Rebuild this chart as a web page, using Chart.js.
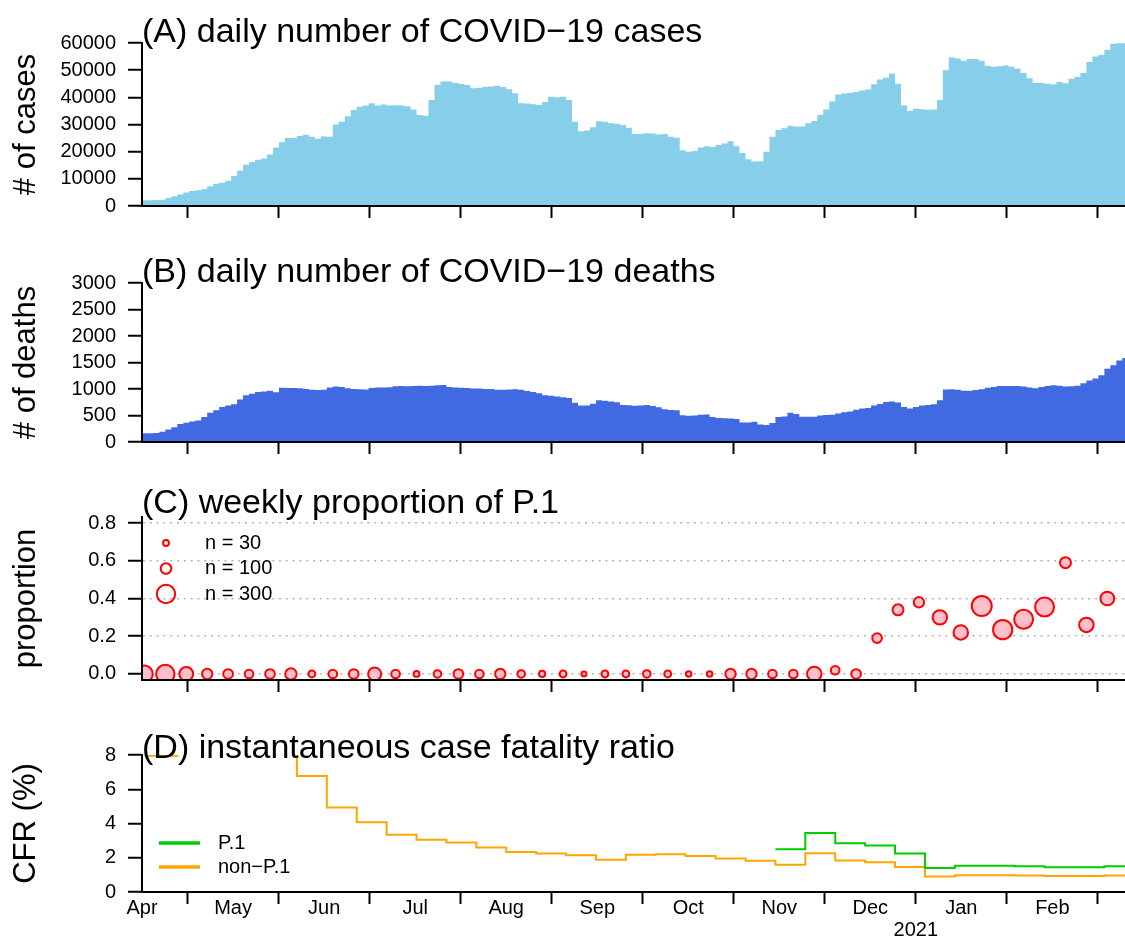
<!DOCTYPE html>
<html>
<head>
<meta charset="utf-8">
<script src="https://cdn.jsdelivr.net/npm/chart.js@4.4.1/dist/chart.umd.min.js"></script>
<style>
  html, body { margin: 0; padding: 0; background: #ffffff; }
  #wrap { position: relative; width: 1125px; height: 939px; overflow: hidden; background: #fff; }
  .panel { position: absolute; left: 0; width: 1125px; }
  canvas { display: block; }
</style>
</head>
<body>
<div id="wrap">
  <div class="panel" style="top:0px;height:240px"><canvas id="cA" width="1125" height="240"></canvas></div>
  <div class="panel" style="top:240px;height:235px"><canvas id="cB" width="1125" height="235"></canvas></div>
  <div class="panel" style="top:475px;height:240px"><canvas id="cC" width="1125" height="240"></canvas></div>
  <div class="panel" style="top:715px;height:224px"><canvas id="cD" width="1125" height="224"></canvas></div>
</div>
<script>
// ---------------- DATA ----------------
// x unit: days since 1 April 2020 (month ticks drawn uniformly, as in the original figure)
const monthLabels = ['Apr', 'May', 'Jun', 'Jul', 'Aug', 'Sep', 'Oct', 'Nov', 'Dec', 'Jan', 'Feb'];
const yearLabel = '2021';
const yearBoundaryIndex = 9;            // tick between Dec and Jan

// daily series, one value per 2-day step starting at day 15
const dailyStartDay = 15;
const dailyStepDays = 2;
const dailyCases = [
  2100, 2100, 2200, 2300, 2900, 3600, 4200, 5000, 5500, 5800,
  6200, 7300, 8200, 8600, 9300, 11000, 13000, 15200, 16200, 17000,
  17500, 19000, 21500, 23500, 25000, 25000, 25800, 26200, 25500, 24800,
  25600, 25500, 30000, 31000, 33000, 35300, 36500, 37000, 37800, 37000,
  37400, 37000, 37100, 37000, 36700, 35500, 33500, 33200, 39000, 44500,
  45800, 45800, 45300, 45000, 44500, 43300, 43500, 43800, 44000, 44300,
  43800, 43000, 41500, 37800, 37700, 37500, 37200, 38300, 40200, 40000,
  40200, 39000, 31000, 27500, 27800, 29000, 31200, 31000, 30500, 30300,
  29800, 28800, 26500, 26500, 26800, 26700, 26300, 26500, 25500, 25100,
  20500, 20000, 20200, 21500, 22000, 21700, 22500, 23000, 23800, 22000,
  19500, 17200, 16400, 16500, 20000, 25500, 28000, 28600, 29500, 29300,
  29300, 30500, 31300, 33500, 35500, 38500, 41000, 41400, 41700, 42000,
  42500, 42900, 44800, 46600, 47200, 48800, 45000, 37000, 35000, 35800,
  35600, 35400, 35500, 39000, 50000, 54700, 54300, 53500, 54100, 54100,
  53500, 51500, 51300, 51400, 51700, 51300, 50500, 49000, 47000, 45300,
  45300, 45000, 44800, 45600, 45200, 46800, 47500, 49000, 53000, 55000,
  55600, 57500, 59700, 59900, 59900
];
const dailyDeaths = [
  164, 164, 170, 195, 235, 280, 340, 365, 385, 405,
  470, 550, 600, 660, 690, 710, 800, 880, 910, 945,
  955, 965, 940, 1025, 1020, 1020, 1015, 1000, 985, 980,
  985, 1030, 1045, 1040, 1015, 1000, 995, 990, 1020, 1030,
  1030, 1035, 1050, 1055, 1050, 1055, 1060, 1055, 1060, 1070,
  1075, 1040, 1030, 1025, 1020, 1010, 1010, 1000, 1000, 985,
  985, 990, 995, 985, 960, 945, 920, 880, 875, 860,
  845, 830, 740, 690, 690, 720, 790, 780, 765, 750,
  700, 695, 686, 690, 698, 680, 655, 620, 604, 600,
  505, 497, 500, 515, 520, 470, 455, 450, 445, 435,
  370, 370, 384, 330, 321, 360, 470, 480, 550, 528,
  478, 478, 478, 500, 510, 515, 540, 560, 575, 610,
  630, 640, 690, 715, 755, 765, 745, 660, 630, 660,
  690, 700, 710, 790, 990, 995, 985, 965, 965, 980,
  995, 1025, 1040, 1055, 1057, 1057, 1057, 1045, 1030, 1015,
  1040, 1057, 1070, 1060, 1045, 1050, 1060, 1110, 1160, 1200,
  1260, 1380, 1450, 1540, 1585
];

// weekly P.1 proportion (first week starts at day 16)
const weeklyStartDay = 16;
const weeklySampleSize = [
  250, 300, 170, 95, 83, 66, 83, 115, 42, 66,
  83, 152, 66, 30, 51, 83, 66, 95, 51, 34,
  42, 22, 42, 42, 51, 42, 27, 27, 95, 95,
  66, 66, 186, 66, 83, 83, 107, 95, 186, 186,
  355, 330, 318, 318, 107, 186, 168
];
const weeklyP1Proportion = [
  0, 0, 0, 0, 0, 0, 0, 0, 0, 0,
  0, 0, 0, 0, 0, 0, 0, 0, 0, 0,
  0, 0, 0, 0, 0, 0, 0, 0, 0, 0,
  0, 0, 0, 0.02, 0, 0.19, 0.34, 0.38, 0.30, 0.22,
  0.36, 0.235, 0.29, 0.355, 0.59, 0.26, 0.40
];
const bubbleLegendSizes = [30, 100, 300];

// instantaneous CFR (%) in 10-day windows
const cfrWindowStart = [16, 27, 37, 47, 57, 67, 77, 87, 97, 107, 117, 127, 137, 147, 157, 167, 177,
  187, 197, 207, 217, 227, 237, 247, 257, 267, 277, 287, 297, 307, 317, 327, 337];
const cfrWindowEnd = 347;
const cfrNonP1 = [7.95, 9.5, 10, 9.5, 9, 6.78, 4.93, 4.08, 3.34, 3.05, 2.89, 2.60, 2.33, 2.25, 2.14, 1.88, 2.17,
  2.21, 2.10, 1.96, 1.83, 1.59, 2.27, 1.84, 1.73, 1.46, 0.91, 0.98, 0.98, 0.96, 0.93, 0.93, 0.96];
const cfrP1 = [null, null, null, null, null, null, null, null, null, null, null, null, null, null, null, null, null,
  null, null, null, null, 2.50, 3.44, 2.85, 2.72, 2.25, 1.40, 1.53, 1.53, 1.50, 1.44, 1.44, 1.50];

const casesTicks = [0, 10000, 20000, 30000, 40000, 50000, 60000];
const deathsTicks = [0, 500, 1000, 1500, 2000, 2500, 3000];
const propTicks = [0, 0.2, 0.4, 0.6, 0.8];
const cfrTicks = [0, 2, 4, 6, 8];

// ---------------- STYLE / LAYOUT ----------------
const FONT = '"Liberation Sans", Arial, Helvetica, sans-serif';
Chart.defaults.font.family = FONT;
Chart.defaults.color = '#000';
const X_MIN = 15.2, X_MAX = 343.9, MONTH = 30.44;
const radiusOf = n => 0.53 * Math.sqrt(n);

function monthTicks(withLabels) {
  const t = [];
  for (let k = 0; k < monthLabels.length; k++) {
    if (withLabels) t.push({ value: (k + 0.5) * MONTH, lab: monthLabels[k], boundary: false });
    t.push({ value: (k + 1) * MONTH, lab: (k + 1 === yearBoundaryIndex) ? ['', yearLabel] : '', boundary: true });
  }
  return t;
}

function xAxis(withLabels) {
  return {
    type: 'linear', position: 'bottom', min: X_MIN, max: X_MAX,
    afterBuildTicks: s => { s.ticks = monthTicks(withLabels); },
    ticks: {
      display: withLabels, autoSkip: false, maxRotation: 0, minRotation: 0, padding: -7,
      font: { size: 20, lineHeight: 1.1 }, color: '#000',
      callback: (v, i, ticks) => ticks[i].lab
    },
    grid: {
      display: true, drawOnChartArea: false, drawTicks: true, tickLength: 12, tickWidth: 2,
      tickColor: c => (c.tick && c.tick.boundary) ? '#000' : 'rgba(0,0,0,0)'
    },
    border: { display: true, color: '#000', width: 2, z: 1 },
    afterFit: s => { s.height = withLabels ? 47 : 12; }
  };
}

function yAxis(min, max, tickVals, fmt, title, dotted) {
  return {
    type: 'linear', position: 'left', min: min, max: max,
    afterBuildTicks: s => { s.ticks = tickVals.map(v => ({ value: v })); },
    ticks: { font: { size: 20 }, color: '#000', padding: 12, autoSkip: false, callback: v => fmt(v) },
    grid: {
      display: true, drawOnChartArea: !!dotted, color: '#b4b4b4', lineWidth: 1.5,
      drawTicks: true, tickLength: 14, tickWidth: 2, tickColor: '#000'
    },
    border: { display: true, color: '#000', width: 2, z: 1, dash: dotted ? [2, 4.8] : [] },
    title: { display: true, text: title, font: { size: 31 }, color: '#000', padding: { top: 8, bottom: 0 } },
    afterFit: s => { s.width = 142; }
  };
}

const panelText = {
  id: 'panelText',
  afterDraw(chart, args, o) {
    const { ctx, chartArea: a } = chart;
    ctx.save();
    ctx.fillStyle = '#000';
    ctx.font = '34px ' + FONT;
    ctx.textAlign = 'left';
    ctx.textBaseline = 'alphabetic';
    ctx.fillText(o.title, a.left, a.top + o.dy);
    ctx.font = '20px ' + FONT;
    ctx.textBaseline = 'middle';
    if (o.kind === 'bubbleLegend') {
      bubbleLegendSizes.forEach((n, j) => {
        const cy = a.top + 26 + j * 25.5;
        ctx.beginPath();
        ctx.lineWidth = 2;
        ctx.strokeStyle = '#ff0000';
        ctx.arc(a.left + 24, cy, radiusOf(n), 0, Math.PI * 2);
        ctx.stroke();
        ctx.fillText('n = ' + n, a.left + 63, cy);
      });
    }
    if (o.kind === 'lineLegend') {
      chart.data.datasets.forEach((ds, j) => {
        const cy = a.top + 88 + j * 24;
        ctx.beginPath();
        ctx.lineWidth = 3.5;
        ctx.strokeStyle = ds.borderColor;
        ctx.moveTo(a.left + 17, cy);
        ctx.lineTo(a.left + 58, cy);
        ctx.stroke();
        ctx.fillText(ds.label, a.left + 76, cy);
      });
    }
    ctx.restore();
  }
};

function baseOptions(padTop, padBottom, xa, ya, text) {
  return {
    responsive: false, animation: false, devicePixelRatio: 1, events: [],
    layout: { autoPadding: false, padding: { top: padTop, bottom: padBottom, left: 0, right: 0 } },
    scales: { x: xa, y: ya },
    plugins: { legend: { display: false }, tooltip: { enabled: false }, title: { display: false }, panelText: text }
  };
}

function stepPoints(values, start, step) {
  const pts = values.map((v, i) => ({ x: start + step * i, y: v }));
  pts.push({ x: start + step * values.length, y: values[values.length - 1] });
  return pts;
}
function windowPoints(values) {
  const pts = values.map((v, i) => ({ x: cfrWindowStart[i], y: v }));
  pts.push({ x: cfrWindowEnd, y: values[values.length - 1] });
  return pts;
}

// (A) cases
new Chart(document.getElementById('cA'), {
  type: 'line',
  data: { datasets: [{
    label: 'cases', data: stepPoints(dailyCases, dailyStartDay, dailyStepDays),
    stepped: 'before', fill: 'origin', backgroundColor: '#87CEEB', borderWidth: 0, pointRadius: 0
  }] },
  options: baseOptions(43, 22, xAxis(false),
    yAxis(0, 60000, casesTicks, v => String(v), '# of cases', false),
    { title: '(A) daily number of COVID\u221219 cases', dy: -1 }),
  plugins: [panelText]
});

// (B) deaths
new Chart(document.getElementById('cB'), {
  type: 'line',
  data: { datasets: [{
    label: 'deaths', data: stepPoints(dailyDeaths, dailyStartDay, dailyStepDays),
    stepped: 'before', fill: 'origin', backgroundColor: '#4169E1', borderWidth: 0, pointRadius: 0
  }] },
  options: baseOptions(43, 21, xAxis(false),
    yAxis(0, 3000, deathsTicks, v => String(v), '# of deaths', false),
    { title: '(B) daily number of COVID\u221219 deaths', dy: -1 }),
  plugins: [panelText]
});

// (C) weekly proportion of P.1
new Chart(document.getElementById('cC'), {
  type: 'bubble',
  data: { datasets: [{
    label: 'P.1 proportion',
    data: weeklyP1Proportion.map((p, i) => ({ x: weeklyStartDay + 7 * i, y: p, r: radiusOf(weeklySampleSize[i]) })),
    backgroundColor: '#FFC0CB', borderColor: '#FF0000', borderWidth: 2,
    clip: { left: 0, top: 0, right: 0, bottom: 0 }
  }] },
  options: baseOptions(42, 23, xAxis(false),
    yAxis(-0.032, 0.832, propTicks, v => v.toFixed(1), 'proportion', true),
    { title: '(C) weekly proportion of P.1', dy: -4, kind: 'bubbleLegend' }),
  plugins: [panelText]
});

// (D) CFR
new Chart(document.getElementById('cD'), {
  type: 'line',
  data: { datasets: [
    { label: 'P.1', data: windowPoints(cfrP1), stepped: 'before', fill: false,
      borderColor: '#00CD00', borderWidth: 2, pointRadius: 0, spanGaps: false },
    { label: 'non\u2212P.1', data: windowPoints(cfrNonP1), stepped: 'before', fill: false,
      borderColor: '#FFA500', borderWidth: 2, pointRadius: 0 }
  ] },
  options: baseOptions(40, 0, xAxis(true),
    yAxis(0, 8, cfrTicks, v => String(v), 'CFR (%)', false),
    { title: '(D) instantaneous case fatality ratio', dy: 3, kind: 'lineLegend' }),
  plugins: [panelText]
});
</script>
</body>
</html>
